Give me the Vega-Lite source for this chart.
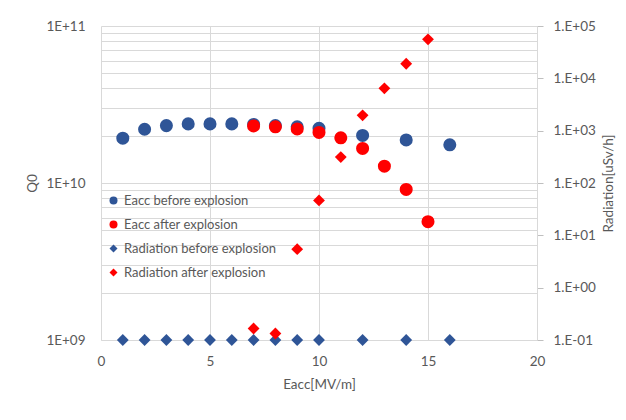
{
  "$schema": "https://vega.github.io/schema/vega-lite/v6.json",
  "autosize": "none",
  "width": 436,
  "height": 314,
  "padding": {"left": 101, "top": 26, "right": 89, "bottom": 80},
  "background": "white",
  "config": {
    "view": {"stroke": null},
    "font": "Lato",
    "axis": {"labelColor": "#595959", "titleColor": "#595959", "labelFontSize": 13.5, "titleFontSize": 13.5, "titleFontWeight": "normal", "gridColor": "#d9d9d9", "domainColor": "#d9d9d9", "tickColor": "#bfbfbf", "labelFlush": false}
  },
  "datasets": {
    "eacc": [
      {"series": "Eacc before explosion", "x": 1, "q0": 1.93e10},
      {"series": "Eacc before explosion", "x": 2, "q0": 2.2e10},
      {"series": "Eacc before explosion", "x": 3, "q0": 2.32e10},
      {"series": "Eacc before explosion", "x": 4, "q0": 2.38e10},
      {"series": "Eacc before explosion", "x": 5, "q0": 2.38e10},
      {"series": "Eacc before explosion", "x": 6, "q0": 2.38e10},
      {"series": "Eacc before explosion", "x": 7, "q0": 2.36e10},
      {"series": "Eacc before explosion", "x": 8, "q0": 2.32e10},
      {"series": "Eacc before explosion", "x": 9, "q0": 2.28e10},
      {"series": "Eacc before explosion", "x": 10, "q0": 2.23e10},
      {"series": "Eacc before explosion", "x": 12, "q0": 2.01e10},
      {"series": "Eacc before explosion", "x": 14, "q0": 1.88e10},
      {"series": "Eacc before explosion", "x": 16, "q0": 1.75e10},
      {"series": "Eacc after explosion", "x": 7, "q0": 2.31e10},
      {"series": "Eacc after explosion", "x": 8, "q0": 2.28e10},
      {"series": "Eacc after explosion", "x": 9, "q0": 2.21e10},
      {"series": "Eacc after explosion", "x": 10, "q0": 2.1e10},
      {"series": "Eacc after explosion", "x": 11, "q0": 1.94e10},
      {"series": "Eacc after explosion", "x": 12, "q0": 1.66e10},
      {"series": "Eacc after explosion", "x": 13, "q0": 1.28e10},
      {"series": "Eacc after explosion", "x": 14, "q0": 9.1e9},
      {"series": "Eacc after explosion", "x": 15, "q0": 5.67e9}
    ],
    "rad": [
      {"series": "Radiation before explosion", "x": 1, "rad": 0.1},
      {"series": "Radiation before explosion", "x": 2, "rad": 0.1},
      {"series": "Radiation before explosion", "x": 3, "rad": 0.1},
      {"series": "Radiation before explosion", "x": 4, "rad": 0.1},
      {"series": "Radiation before explosion", "x": 5, "rad": 0.1},
      {"series": "Radiation before explosion", "x": 6, "rad": 0.1},
      {"series": "Radiation before explosion", "x": 7, "rad": 0.1},
      {"series": "Radiation before explosion", "x": 8, "rad": 0.1},
      {"series": "Radiation before explosion", "x": 9, "rad": 0.1},
      {"series": "Radiation before explosion", "x": 10, "rad": 0.1},
      {"series": "Radiation before explosion", "x": 12, "rad": 0.1},
      {"series": "Radiation before explosion", "x": 14, "rad": 0.1},
      {"series": "Radiation before explosion", "x": 16, "rad": 0.1},
      {"series": "Radiation after explosion", "x": 7, "rad": 0.166},
      {"series": "Radiation after explosion", "x": 8, "rad": 0.133},
      {"series": "Radiation after explosion", "x": 9, "rad": 5.45},
      {"series": "Radiation after explosion", "x": 10, "rad": 46.5},
      {"series": "Radiation after explosion", "x": 11, "rad": 313},
      {"series": "Radiation after explosion", "x": 12, "rad": 1960},
      {"series": "Radiation after explosion", "x": 13, "rad": 6430},
      {"series": "Radiation after explosion", "x": 14, "rad": 19000},
      {"series": "Radiation after explosion", "x": 15, "rad": 55600}
    ]
  },
  "encoding": {
    "x": {"field": "x", "type": "quantitative", "scale": {"domain": [0, 20], "nice": false}, "axis": {"values": [0, 5, 10, 15, 20], "title": "Eacc[MV/m]", "ticks": false, "labelPadding": 14, "titlePadding": 10, "grid": true}},
    "color": {"field": "series", "type": "nominal", "scale": {"domain": ["Eacc before explosion", "Eacc after explosion", "Radiation before explosion", "Radiation after explosion"], "range": ["#2F5597", "#FF0000", "#2F5597", "#FF0000"]},
      "legend": {"title": null, "orient": "none", "legendX": 6, "legendY": 168, "labelFontSize": 13, "labelColor": "#595959", "symbolSize": 64, "rowPadding": 10, "labelOffset": 4}},
    "shape": {"field": "series", "type": "nominal", "scale": {"domain": ["Eacc before explosion", "Eacc after explosion", "Radiation before explosion", "Radiation after explosion"], "range": ["circle", "circle", "diamond", "diamond"]}}
  },
  "layer": [
    {
      "data": {"name": "eacc"},
      "mark": {"type": "point", "filled": true, "opacity": 1, "size": 170},
      "encoding": {
        "y": {"field": "q0", "type": "quantitative", "scale": {"type": "log", "domain": [1e9, 1e11], "nice": false},
          "axis": {"title": "Q0", "orient": "left", "values": [1e9, 2e9, 3e9, 4e9, 5e9, 6e9, 7e9, 8e9, 9e9, 1e10, 2e10, 3e10, 4e10, 5e10, 6e10, 7e10, 8e10, 9e10, 1e11],
            "labelExpr": "datum.value == 1e9 ? '1E+09' : datum.value == 1e10 ? '1E+10' : datum.value == 1e11 ? '1E+11' : ''",
            "ticks": false, "domain": false, "grid": true, "labelPadding": 16, "titlePadding": 6}}
      }
    },
    {
      "data": {"name": "rad"},
      "mark": {"type": "point", "filled": true, "opacity": 1, "size": 140},
      "encoding": {
        "y": {"field": "rad", "type": "quantitative", "scale": {"type": "log", "domain": [0.1, 100000], "nice": false},
          "axis": {"title": "Radiation[uSv/h]", "orient": "right", "titleAngle": 270, "titleBaseline": "top", "values": [0.1, 1, 10, 100, 1000, 10000, 100000],
            "labelExpr": "'1.E' + (datum.value < 1 ? '-0' + (-round(log(datum.value)/LN10)) : '+0' + round(log(datum.value)/LN10))",
            "grid": false, "domain": true, "ticks": true, "tickSize": 6, "labelPadding": 10, "titlePadding": 6}}
      }
    }
  ],
  "resolve": {"scale": {"y": "independent"}}
}
